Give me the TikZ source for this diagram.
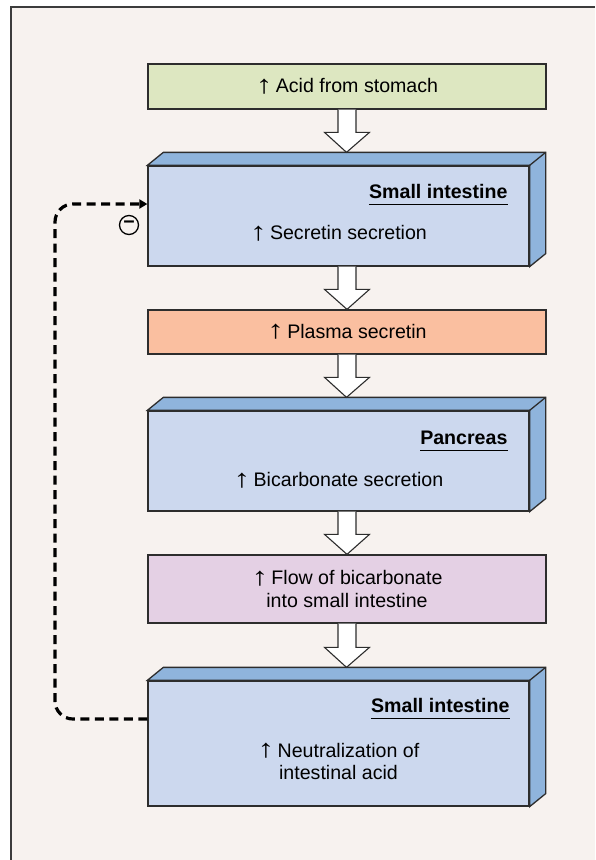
\documentclass[tikz,border=0pt]{standalone}
\usepackage{fontspec}
\usepackage{graphicx}
\setmainfont{Liberation Sans}
\usetikzlibrary{arrows.meta, positioning, calc}
\definecolor{bgcream}{RGB}{247,242,239}
\definecolor{framegray}{RGB}{60,60,60}
\definecolor{acidgreen}{RGB}{221,231,193}
\definecolor{plasmasalmon}{RGB}{250,191,160}
\definecolor{flowlilac}{RGB}{228,208,228}
\definecolor{organfront}{RGB}{204,216,238}
\definecolor{organedge}{RGB}{143,180,220}
\definecolor{boxline}{RGB}{45,45,45}
\newcommand{\diagfont}{\fontsize{19.6pt}{22.5pt}\selectfont}
\newcommand{\incr}{\raisebox{-0.5pt}{\scalebox{1.7}[1.3]{\textbf{↑}}}\,}
\tikzset{
  flatbox/.style={draw=boxline, line width=1.3pt, minimum width=398pt, align=center, inner sep=0pt},
  organ/.style={draw=boxline, line width=1.3pt, fill=organfront, minimum width=381pt, inner sep=0pt},
  organname/.style={font=\diagfont\bfseries, inner sep=0pt, anchor=base east},
  flowarrow/.style={draw=boxline, line width=1.1pt, fill=white},
  feedback/.style={line width=3.2pt, dash pattern=on 9pt off 5.5pt, rounded corners=18pt, -{Triangle[length=8pt,width=9pt]}},
}
% hollow block arrow from #1 down to its tip at #2
\newcommand{\downflow}[2]{%
  \draw[flowarrow] let \p1=(#1), \p2=(#2) in
    (\x1-9pt,\y1) -- (\x1-9pt,\y2+20pt) -- (\x1-22.5pt,\y2+20pt) -- (\x2,\y2)
    -- (\x1+22.5pt,\y2+20pt) -- (\x1+9pt,\y2+20pt) -- (\x1+9pt,\y1);}
% top and side faces of an organ box
\newcommand{\organdepth}[1]{%
  \draw[draw=boxline, line width=1.3pt, fill=organedge] (#1.north west) -- ++(16pt,13pt)
    -- ([shift={(16pt,13pt)}]#1.north east) -- ([shift={(16pt,13pt)}]#1.south east)
    -- (#1.south east) -- (#1.north east) -- cycle;
  \draw[draw=boxline, line width=1.3pt] (#1.north east) -- ++(16pt,13pt);}

\begin{document}
\begin{tikzpicture}[x=1pt, y=-1pt, font=\diagfont]
    \useasboundingbox (0,0) rectangle (595,860);
    \fill[white] (0,0) rectangle (595,860);
    \fill[bgcream] (11,7) rectangle (595,860);
    \draw[framegray, line width=2pt] (11,860) -- (11,7) -- (595,7);

    % boxes
    \node[flatbox, fill=acidgreen, minimum height=45pt] (acid) at (347,86.5) {\incr Acid from stomach};

    \node[organ, minimum height=100pt] (si1) at (338.5,216) {};
    \organdepth{si1}
    \node[organname] (si1name) at ([xshift=-22pt,yshift=-33pt]si1.north east) {Small intestine};
    \node (si1text) at ([yshift=-68pt]si1.north) {\incr Secretin secretion};

    \node[flatbox, fill=plasmasalmon, minimum height=44pt] (plasma) at (347,332) {\incr Plasma secretin};

    \node[organ, minimum height=100pt] (panc) at (338.5,461) {};
    \organdepth{panc}
    \node[organname] (pancname) at ([xshift=-22pt,yshift=-34pt]panc.north east) {Pancreas};
    \node (panctext) at ([yshift=-70pt]panc.north) {\incr Bicarbonate secretion};

    \node[flatbox, fill=flowlilac, minimum height=68pt] (flow) at (347,589) {\incr Flow of bicarbonate\\into small intestine};

    \node[organ, minimum height=125pt] (si2) at (338.5,743.5) {};
    \organdepth{si2}
    \node[organname] (si2name) at ([xshift=-20pt,yshift=-32pt]si2.north east) {Small intestine};
    \node[align=center] (si2text) at ([yshift=-81pt]si2.north) {\incr Neutralization of\\intestinal acid};

    \foreach \n in {si1name, pancname, si2name}
        \draw[line width=1.2pt] ([yshift=-6pt]\n.base west) -- ([yshift=-6pt]\n.base east);

    % block arrows
    \downflow{acid.south}{[shift={(8pt,13pt)}]si1.north}
    \downflow{plasma.north |- si1.south}{plasma.north}
    \downflow{plasma.south}{[shift={(8pt,13pt)}]panc.north}
    \downflow{flow.north |- panc.south}{flow.north}
    \downflow{flow.south}{[shift={(8pt,13pt)}]si2.north}

    % negative feedback
    \draw[feedback] ([yshift=24.5pt]si2.west) -| (55,450) |- ([yshift=12pt]si1.west);
    \node[circle, draw, line width=1.3pt, minimum size=19pt, inner sep=0pt, font=\diagfont\bfseries] (inhib) at (129,225) {−};
\end{tikzpicture}
\end{document}
